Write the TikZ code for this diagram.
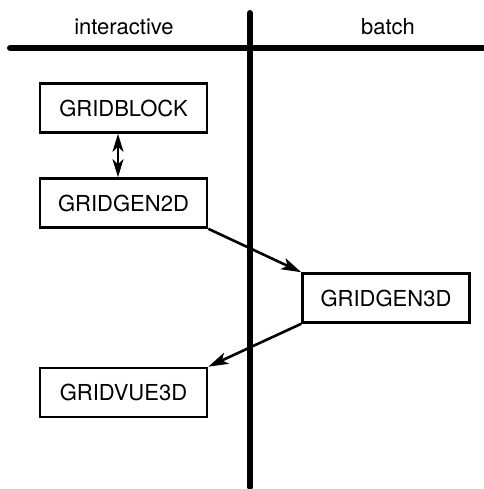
\documentclass[tikz,border=0pt]{standalone}
\usepackage{fontspec}
\setmainfont{TeX Gyre Heros}
\usetikzlibrary{arrows.meta}
\begin{document}
\begin{tikzpicture}[x=1pt,y=-1pt,
  box/.style={draw,line width=2.6pt,minimum width=167pt,minimum height=49pt,inner sep=0pt,font=\fontsize{22}{26}\selectfont},
  lane/.style={line width=6pt,line cap=round},
  conn/.style={line width=2.6pt,-{Stealth[length=20pt,width=12pt,inset=5pt]}},
  dconn/.style={line width=2.6pt,{Stealth[length=18pt,width=11pt,inset=5pt]}-{Stealth[length=18pt,width=11pt,inset=5pt]}},
  lbl/.style={font=\fontsize{22}{26}\selectfont}]
\useasboundingbox (0,0) rectangle (483,489);
\coordinate (hl) at (10,48);
\coordinate (hr) at (483,48);
\coordinate (vt) at (250,13);
\coordinate (vb) at (250,487);
\draw[lane] (hl) -- (hr);
\draw[lane] (vt) -- (vb);
\node[lbl] (li) at (124,27) {interactive};
\node[lbl] (lb) at (388,27) {batch};
\node[box] (gb) at (123.5,108) {GRIDBLOCK};
\node[box] (g2) at (123.5,203) {GRIDGEN2D};
\node[box] (g3) at (386,298) {GRIDGEN3D};
\node[box] (g4) at (123.5,392.5) {GRIDVUE3D};
\draw[dconn] (gb.south -| 118,0) -- (g2.north -| 118,0);
\draw[conn] (g2.south east) -- (g3.north west);
\draw[conn] (g3.south west) -- (g4.north east);
\end{tikzpicture}
\end{document}
